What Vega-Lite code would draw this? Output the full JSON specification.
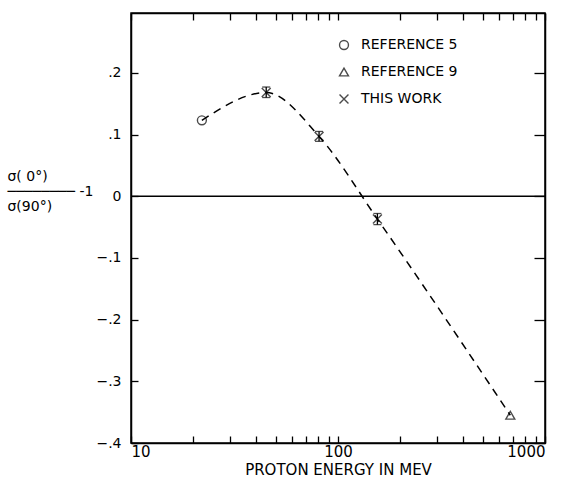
{
  "$schema": "https://vega.github.io/schema/vega-lite/v6.json",
  "width": 414,
  "height": 430,
  "autosize": "none",
  "padding": {"left": 131, "top": 13, "right": 24, "bottom": 36},
  "background": "white",
  "config": {
    "view": {"stroke": "black", "strokeWidth": 1.5},
    "font": "DejaVu Sans",
    "axis": {"domainColor": "black", "domainWidth": 1.5, "tickColor": "black", "tickWidth": 1.3, "labelColor": "black", "titleColor": "black", "grid": false, "labelFont": "DejaVu Sans", "titleFont": "DejaVu Sans", "labelFontSize": 14, "titleFontSize": 15, "titleFontWeight": "normal"}
  },
  "data": {"values": [
    {"E": 22, "r": 0.123, "series": "REFERENCE 5"},
    {"E": 45, "r": 0.168, "lo": 0.160, "hi": 0.177, "series": "THIS WORK"},
    {"E": 81, "r": 0.097, "lo": 0.089, "hi": 0.105, "series": "THIS WORK"},
    {"E": 155, "r": -0.037, "lo": -0.046, "hi": -0.028, "series": "THIS WORK"},
    {"E": 680, "r": -0.355, "series": "REFERENCE 9"}
  ]},
  "resolve": {"axis": {"x": "independent", "y": "independent"}},
  "layer": [
    {
      "data": {"values": [{"z": 0}]},
      "mark": {"type": "rule", "color": "black", "strokeWidth": 1.3},
      "encoding": {
        "y": {"field": "z", "type": "quantitative", "scale": {"domain": [-0.4, 0.297], "nice": false, "zero": false},
          "axis": {"orient": "left", "values": [-0.4, -0.3, -0.2, -0.1, 0, 0.1, 0.2], "tickSize": -7, "labelPadding": 17,
            "labelExpr": "datum.value == 0 ? '0' : replace(format(datum.value, '.1f'), '0.', '.')",
            "title": ["σ( 0°)", "────────  -1", "σ(90°)"], "titleFontSize": 14, "titleAngle": 0, "titleAlign": "left", "titleBaseline": "middle", "titleX": -124, "titleY": 163, "titleLineHeight": 15}}
      }
    },
    {
      "mark": {"type": "line", "color": "black", "strokeWidth": 1.5, "strokeDash": [8, 6], "interpolate": "monotone"},
      "encoding": {
        "x": {"field": "E", "type": "quantitative", "scale": {"type": "log", "domain": [10, 1000], "nice": false},
          "axis": {"orient": "bottom", "values": [10, 20, 30, 40, 50, 60, 70, 80, 90, 100, 200, 300, 400, 500, 600, 700, 800, 900, 1000],
            "tickSize": -7, "labelPadding": 8, "format": "d",
            "labelExpr": "(datum.value == 10 || datum.value == 100 || datum.value == 1000) ? datum.label : ''",
            "labelFontSize": 15, "title": "PROTON ENERGY IN MEV", "titlePadding": 3}},
        "y": {"field": "r", "type": "quantitative", "axis": null},
        "order": {"field": "E", "type": "quantitative"}
      }
    },
    {
      "transform": [{"filter": "datum.series == 'THIS WORK'"}],
      "mark": {"type": "errorbar", "orient": "vertical", "color": "black", "thickness": 1.3, "ticks": {"size": 8, "color": "black"}},
      "encoding": {
        "x": {"field": "E", "type": "quantitative", "axis": null},
        "y": {"field": "lo", "type": "quantitative", "axis": null},
        "y2": {"field": "hi"}
      }
    },
    {
      "mark": {"type": "point", "filled": false, "color": "black", "strokeWidth": 1.4, "size": 80},
      "encoding": {
        "x": {"field": "E", "type": "quantitative", "axis": null},
        "y": {"field": "r", "type": "quantitative", "axis": null},
        "shape": {"field": "series", "type": "nominal",
          "scale": {"domain": ["REFERENCE 5", "REFERENCE 9", "THIS WORK"], "range": ["circle", "triangle-up", "M-1,-1L1,1M1,-1L-1,1"]},
          "legend": {"orient": "none", "legendX": 206, "legendY": 25, "title": null, "labelFontSize": 14, "labelColor": "black", "symbolStrokeColor": "black", "symbolFillColor": "transparent", "symbolStrokeWidth": 1.4, "symbolSize": 80, "rowPadding": 12, "labelOffset": 10}}
      }
    },
    {
      "mark": {"type": "point", "opacity": 0},
      "encoding": {
        "x": {"field": "E", "type": "quantitative",
          "axis": {"orient": "top", "values": [10, 20, 30, 40, 50, 60, 70, 80, 90, 100, 200, 300, 400, 500, 600, 700, 800, 900, 1000], "tickSize": -7, "labels": false, "title": null}},
        "y": {"field": "r", "type": "quantitative",
          "axis": {"orient": "right", "values": [-0.4, -0.3, -0.2, -0.1, 0, 0.1, 0.2], "tickSize": -11, "labels": false, "title": null}}
      }
    }
  ]
}
